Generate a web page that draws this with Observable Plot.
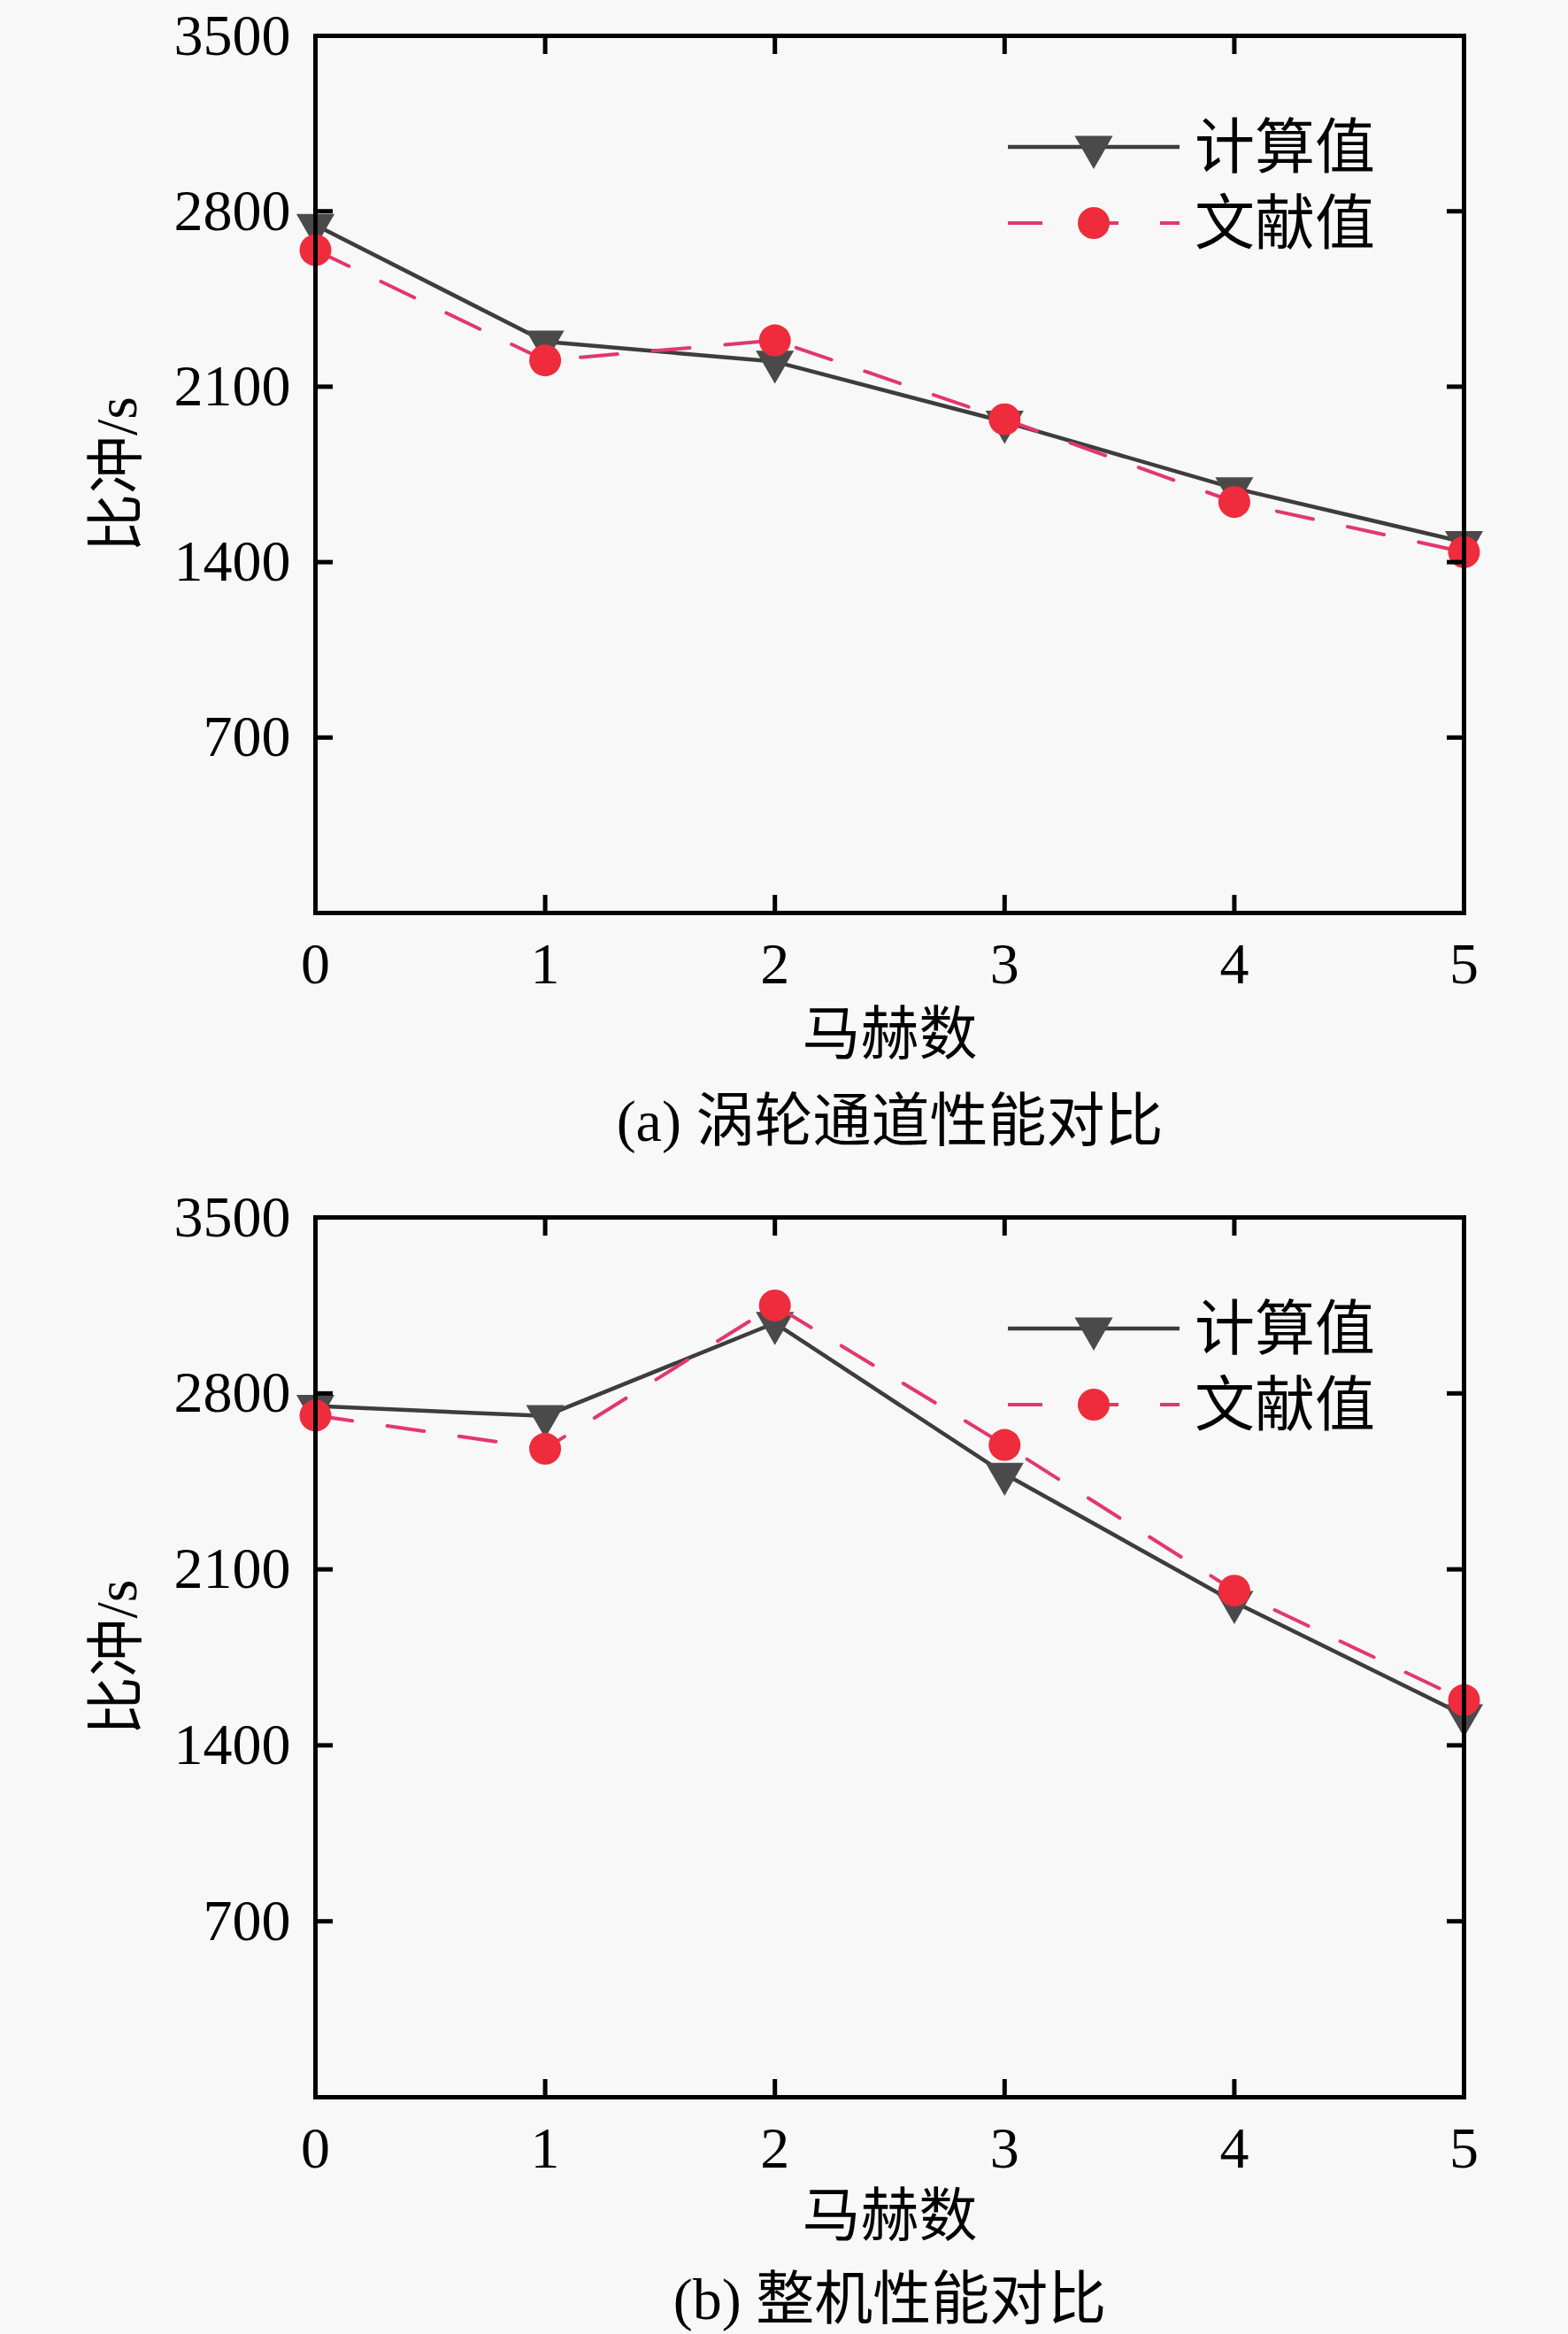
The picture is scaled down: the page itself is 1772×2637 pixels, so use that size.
<!DOCTYPE html>
<html>
<head>
<meta charset="utf-8">
<script src="https://cdn.jsdelivr.net/npm/d3@7"></script>
<script src="https://cdn.jsdelivr.net/npm/@observablehq/plot@0.6"></script>
<style>
html, body { margin: 0; padding: 0; background: #f8f8f8; }
#root { width: 1772px; height: 2637px; }
#root svg { display: block; }
</style>
</head>
<body>
<div id="root"></div>
<script>
// ---- data ----
const mach = [0, 1, 2, 3, 4, 5];
const calcA = [2745, 2280, 2200, 1960, 1695, 1480];
const litA  = [2645, 2205, 2285, 1970, 1640, 1440];
const calcB = [2750, 2710, 3080, 2480, 1970, 1520];
const litB  = [2712, 2580, 3150, 2595, 2015, 1580];
const yTicks = [700, 1400, 2100, 2800, 3500];
const xTicks = [0, 1, 2, 3, 4, 5];
const seriesNames = ["计算值", "文献值"];
const captions = ["(a) 涡轮通道性能对比", "(b) 整机性能对比"];
const xLabel = "马赫数";
const yLabel = "比冲/s";

const FONT = "'Liberation Serif', 'Times New Roman', 'Noto Sans CJK SC', serif";
const CALC_LINE = "#3d3d3d", CALC_FILL = "#4a4a4a";
const LIT_LINE = "#e2386a", LIT_FILL = "#ee2c3c";
const CJK_SIZE = 66;

function makePanel(calc, lit, caption, height, marginTop, marginBottom, xLabelDy, captionDy) {
  const calcData = mach.map((m, i) => ({x: m, y: calc[i]}));
  const litData = mach.map((m, i) => ({x: m, y: lit[i]}));
  const marginLeft = 356, marginRight = 118;
  const fmt = d => String(d);
  const svg = Plot.plot({
    width: 1772,
    height,
    marginTop, marginBottom, marginLeft, marginRight,
    style: {fontFamily: FONT, background: "#f8f8f8", color: "#000", overflow: "visible"},
    x: {domain: [0, 5]},
    y: {domain: [0, 3500]},
    marks: [
      Plot.line(calcData, {x: "x", y: "y", stroke: CALC_LINE, strokeWidth: 4.5}),
      Plot.dot(calcData, {x: "x", y: "y", symbol: "triangle", rotate: 180, r: 16, fill: CALC_FILL, stroke: "none"}),
      Plot.line(litData, {x: "x", y: "y", stroke: LIT_LINE, strokeWidth: 4, strokeDasharray: "42,40"}),
      Plot.dot(litData, {x: "x", y: "y", r: 18, fill: LIT_FILL, stroke: "none"}),
      // inward ticks on all sides
      Plot.axisY(yTicks, {anchor: "left", tickSize: -20, fill: "none", stroke: "#000", strokeWidth: 5, label: null}),
      Plot.axisY(yTicks.filter(t => t < 3500), {anchor: "right", tickSize: -20, fill: "none", stroke: "#000", strokeWidth: 5, label: null}),
      Plot.axisX(xTicks, {anchor: "top", tickSize: -20, fill: "none", stroke: "#000", strokeWidth: 5, label: null}),
      Plot.axisX(xTicks, {anchor: "bottom", tickSize: -20, fill: "none", stroke: "#000", strokeWidth: 5, label: null}),
      // tick labels
      Plot.axisY(yTicks, {anchor: "left", tickSize: 0, tickPadding: 28, fontSize: 66, tickFormat: fmt, label: null}),
      Plot.axisX(xTicks, {anchor: "bottom", tickSize: 0, tickPadding: 33, fontSize: 66, tickFormat: fmt, label: null}),
      Plot.frame({stroke: "#000", strokeWidth: 5}),
      // axis titles and caption
      Plot.text([xLabel], {text: d => d, frameAnchor: "bottom", dy: xLabelDy, fontSize: CJK_SIZE, lineAnchor: "middle", fill: "#000"}),
      Plot.text([yLabel], {text: d => d, frameAnchor: "left", textAnchor: "middle", dx: -224, rotate: -90, fontSize: CJK_SIZE, lineAnchor: "middle", fill: "#000"}),
      Plot.text([caption], {text: d => d, frameAnchor: "bottom", dy: captionDy, fontSize: CJK_SIZE, lineAnchor: "middle", fill: "#000"})
    ]
  });

  // legend (upper right, inside the frame)
  const g = d3.select(svg).append("g").attr("class", "legend");
  const rowY = [marginTop + 126, marginTop + 212];
  const x0 = 1139, x1 = 1333, xm = 1236, xt = 1350;
  g.append("line").attr("x1", x0).attr("x2", x1).attr("y1", rowY[0]).attr("y2", rowY[0])
    .attr("stroke", CALC_LINE).attr("stroke-width", 4.5);
  g.append("path").attr("d", d3.symbol(d3.symbolTriangle, Math.PI * 16 * 16)())
    .attr("transform", `translate(${xm},${rowY[0]}) rotate(180)`).attr("fill", CALC_FILL);
  g.append("line").attr("x1", x0).attr("x2", x1).attr("y1", rowY[1]).attr("y2", rowY[1])
    .attr("stroke", LIT_LINE).attr("stroke-width", 4).attr("stroke-dasharray", "39,47");
  g.append("circle").attr("cx", xm).attr("cy", rowY[1]).attr("r", 18).attr("fill", LIT_FILL);
  seriesNames.forEach((name, i) => {
    g.append("text").attr("x", xt).attr("y", rowY[i]).attr("dy", "0.35em")
      .attr("text-anchor", "start")
      .attr("font-size", 68).attr("font-family", FONT).attr("fill", "#000").text(name);
  });
  return svg;
}

const root = document.getElementById("root");
root.appendChild(makePanel(calcA, litA, captions[0], 1344, 40, 313, 138, 236));
root.appendChild(makePanel(calcB, litB, captions[1], 1293, 31, 268, 135, 229));
</script>
</body>
</html>
